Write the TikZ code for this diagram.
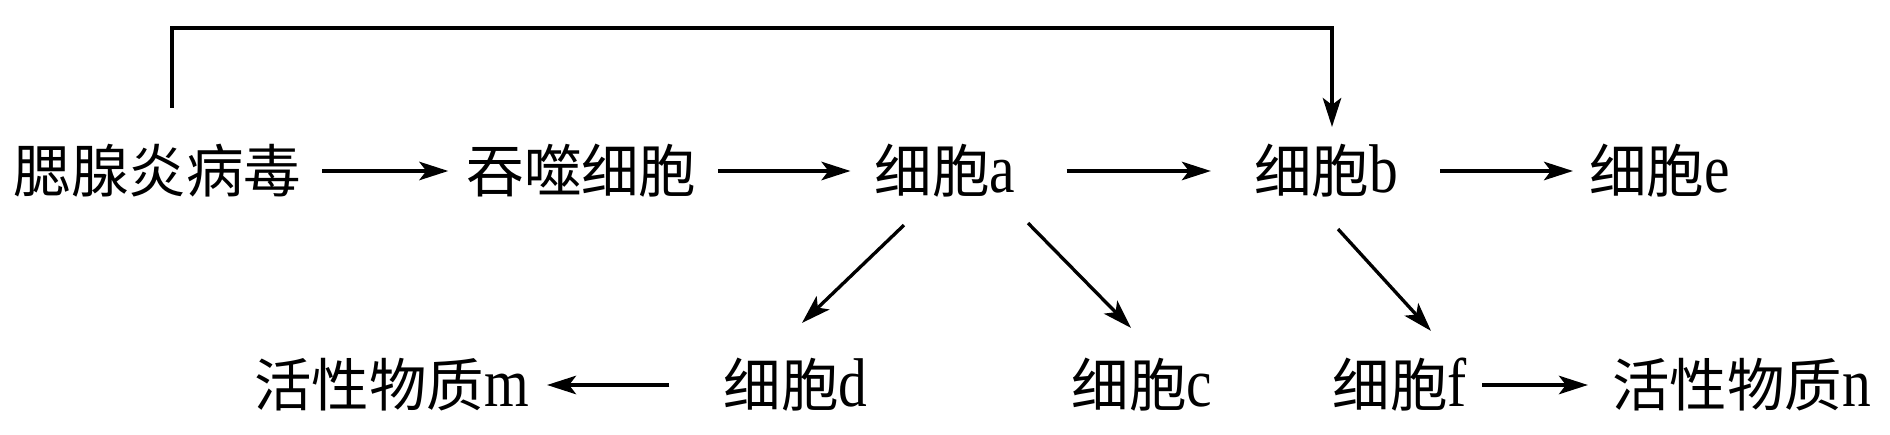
\documentclass[tikz,border=0pt]{standalone}
\usepackage{fontspec}
\usepackage{graphicx}
\setmainfont{Liberation Serif}
\newfontfamily\cjk{Noto Sans CJK SC}
\newcommand{\ltr}[1]{\scalebox{1}[1.2]{#1}}
\usetikzlibrary{arrows.meta,calc}
\tikzset{
  lbl/.style={inner sep=0pt,text height=28.8pt,text depth=3.9pt,font=\fontsize{32.7}{40}\selectfont},
  arr/.style={line width=1.9pt,-{Stealth[length=0.58cm,width=0.37cm,inset=0.14cm]}},
}
\begin{document}
\begin{tikzpicture}[x=0.02cm,y=-0.02cm]
\useasboundingbox (0,0) rectangle (1890,435);
% upper row
\node[lbl] (vir) at (157.5,171) {\cjk 腮腺炎病毒};
\node[lbl] (pha) at (581.5,171) {\cjk 吞噬细胞};
\node[lbl] (ca) at (945,171) {{\cjk 细胞}\ltr{a}};
\node[lbl] (cb) at (1326,171) {{\cjk 细胞}\ltr{b}};
\node[lbl] (ce) at (1659.5,171) {{\cjk 细胞}\ltr{e}};
% lower row
\node[lbl] (sm) at (391.5,385) {{\cjk 活性物质}\ltr{m}};
\node[lbl] (cd) at (795.5,385) {{\cjk 细胞}\ltr{d}};
\node[lbl] (cc) at (1142,385) {{\cjk 细胞}\ltr{c}};
\node[lbl] (cf) at (1400,385) {{\cjk 细胞}\ltr{f}};
\node[lbl] (sn) at (1741.5,385) {{\cjk 活性物质}\ltr{n}};
% horizontal arrows
\draw[arr,shorten <=0.42cm,shorten >=0.36cm] (vir) -- (pha);
\draw[arr,shorten <=0.42cm,shorten >=0.48cm] (pha) -- (ca);
\draw[arr,shorten <=1.02cm,shorten >=0.86cm] (ca) -- (cb);
\draw[arr,shorten <=0.84cm,shorten >=0.32cm] (cb) -- (ce);
\draw[arr,shorten <=1.08cm,shorten >=0.36cm] (cd) -- (sm);
\draw[arr,shorten <=0.3cm,shorten >=0.48cm] (cf) -- (sn);
% diagonal arrows
\draw[arr] ($(ca.south)+(-41,25)$) -- ($(cd.north)+(6.5,-33)$);
\draw[arr] ($(ca.south)+(83,23)$) -- ($(cc.north)+(-11,-28)$);
\draw[arr] ($(cb.south)+(12,29)$) -- ($(cf.north)+(31,-25)$);
% feedback line on top
\draw[arr] ($(vir.north)+(14.5,-34)$) |- ($(cb.north)+(6,-114)$) -- ($(cb.north)+(6,-15)$);
\end{tikzpicture}
\end{document}
